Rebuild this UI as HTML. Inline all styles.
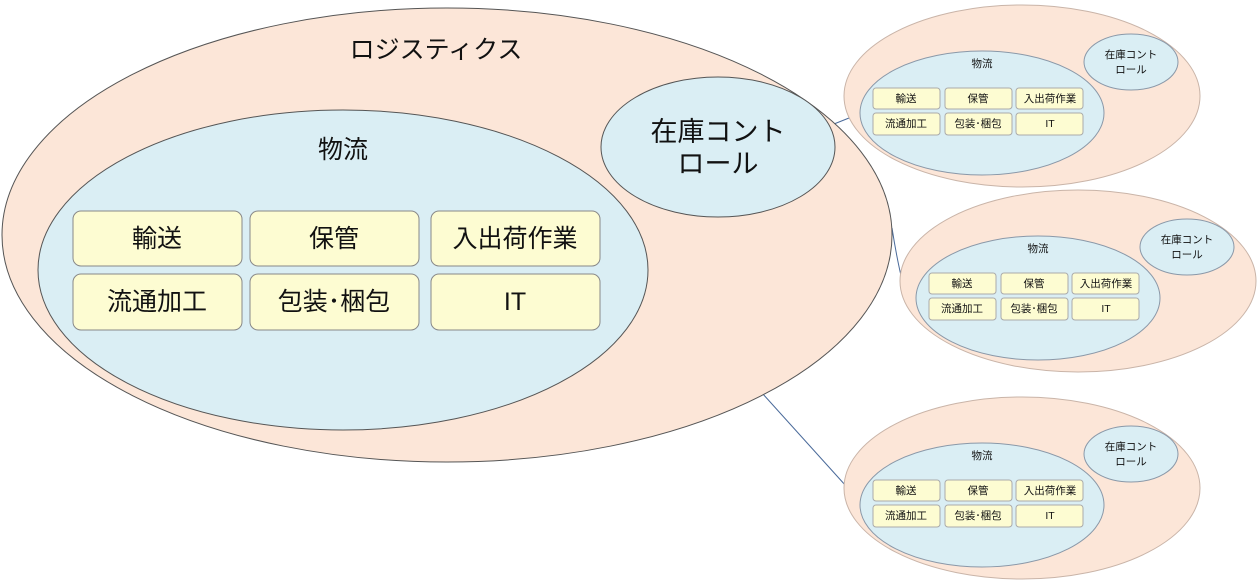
<!DOCTYPE html>
<html><head><meta charset="utf-8"><style>
html,body{margin:0;padding:0;background:#fff;}
svg text{font-family:"Liberation Sans","Noto Sans CJK JP",sans-serif;fill:#111;text-anchor:middle;dominant-baseline:central;}
</style></head><body>
<svg width="1258" height="581" viewBox="0 0 1258 581" xmlns="http://www.w3.org/2000/svg">
<g stroke="#4a6a9a" stroke-width="1" fill="none">
<line x1="834" y1="124" x2="864" y2="112"/>
<path d="M892 228 Q897 260 903 284"/>
<line x1="762" y1="393" x2="846" y2="486"/>
</g>
<!-- big -->
<ellipse cx="447" cy="235" rx="445" ry="227" fill="#fce6d8" stroke="#555" stroke-width="1"/>
<ellipse cx="343" cy="270" rx="305" ry="160" fill="#daeef4" stroke="#555" stroke-width="1"/>
<ellipse cx="718" cy="147" rx="117" ry="70" fill="#daeef4" stroke="#555" stroke-width="1"/>
<text x="436" y="50" font-size="25">ロジスティクス</text>
<text x="343" y="150" font-size="25">物流</text>
<text x="718" y="132" font-size="27">在庫コント</text>
<text x="718" y="164" font-size="27">ロール</text>
<g fill="#fdfcd2" stroke="#888" stroke-width="1">
<rect x="73" y="211" width="169" height="55" rx="8"/>
<rect x="250" y="211" width="169" height="55" rx="8"/>
<rect x="431" y="211" width="169" height="55" rx="8"/>
<rect x="73" y="274" width="169" height="56" rx="8"/>
<rect x="250" y="274" width="169" height="56" rx="8"/>
<rect x="431" y="274" width="169" height="56" rx="8"/>
</g>
<g font-size="25">
<text x="157" y="239">輸送</text>
<text x="334" y="239">保管</text>
<text x="515" y="239">入出荷作業</text>
<text x="157" y="302">流通加工</text>
<text x="334" y="302">包装･梱包</text>
<text x="515" y="302">IT</text>
</g>
<!-- small diagrams -->
<g id="s1">
<ellipse cx="1022" cy="96" rx="178" ry="91" fill="#fce6d8" stroke="#c9b4a8" stroke-width="1"/>
<ellipse cx="982" cy="113" rx="122" ry="62" fill="#daeef4" stroke="#8a98a8" stroke-width="1"/>
<ellipse cx="1131" cy="62" rx="47" ry="28" fill="#daeef4" stroke="#8a98a8" stroke-width="1"/>
<text x="982" y="64" font-size="10.5">物流</text>
<text x="1131" y="55" font-size="10.5">在庫コント</text>
<text x="1131" y="70" font-size="10.5">ロール</text>
<g fill="#fdfcd2" stroke="#aaa" stroke-width="1">
<rect x="873" y="88" width="67" height="21" rx="3"/><rect x="945" y="88" width="67" height="21" rx="3"/><rect x="1016" y="88" width="67" height="21" rx="3"/>
<rect x="873" y="113" width="67" height="22" rx="3"/><rect x="945" y="113" width="67" height="22" rx="3"/><rect x="1016" y="113" width="67" height="22" rx="3"/>
</g>
<g font-size="10.5">
<text x="906" y="99">輸送</text><text x="978" y="99">保管</text><text x="1050" y="99">入出荷作業</text>
<text x="906" y="124">流通加工</text><text x="978" y="124">包装･梱包</text><text x="1050" y="124">IT</text>
</g>
</g>
<g transform="translate(56,185)">
<ellipse cx="1022" cy="96" rx="178" ry="91" fill="#fce6d8" stroke="#c9b4a8" stroke-width="1"/>
<ellipse cx="982" cy="113" rx="122" ry="62" fill="#daeef4" stroke="#8a98a8" stroke-width="1"/>
<ellipse cx="1131" cy="62" rx="47" ry="28" fill="#daeef4" stroke="#8a98a8" stroke-width="1"/>
<text x="982" y="64" font-size="10.5">物流</text>
<text x="1131" y="55" font-size="10.5">在庫コント</text>
<text x="1131" y="70" font-size="10.5">ロール</text>
<g fill="#fdfcd2" stroke="#aaa" stroke-width="1">
<rect x="873" y="88" width="67" height="21" rx="3"/><rect x="945" y="88" width="67" height="21" rx="3"/><rect x="1016" y="88" width="67" height="21" rx="3"/>
<rect x="873" y="113" width="67" height="22" rx="3"/><rect x="945" y="113" width="67" height="22" rx="3"/><rect x="1016" y="113" width="67" height="22" rx="3"/>
</g>
<g font-size="10.5">
<text x="906" y="99">輸送</text><text x="978" y="99">保管</text><text x="1050" y="99">入出荷作業</text>
<text x="906" y="124">流通加工</text><text x="978" y="124">包装･梱包</text><text x="1050" y="124">IT</text>
</g>
</g>
<g transform="translate(0,392)">
<ellipse cx="1022" cy="96" rx="178" ry="91" fill="#fce6d8" stroke="#c9b4a8" stroke-width="1"/>
<ellipse cx="982" cy="113" rx="122" ry="62" fill="#daeef4" stroke="#8a98a8" stroke-width="1"/>
<ellipse cx="1131" cy="62" rx="47" ry="28" fill="#daeef4" stroke="#8a98a8" stroke-width="1"/>
<text x="982" y="64" font-size="10.5">物流</text>
<text x="1131" y="55" font-size="10.5">在庫コント</text>
<text x="1131" y="70" font-size="10.5">ロール</text>
<g fill="#fdfcd2" stroke="#aaa" stroke-width="1">
<rect x="873" y="88" width="67" height="21" rx="3"/><rect x="945" y="88" width="67" height="21" rx="3"/><rect x="1016" y="88" width="67" height="21" rx="3"/>
<rect x="873" y="113" width="67" height="22" rx="3"/><rect x="945" y="113" width="67" height="22" rx="3"/><rect x="1016" y="113" width="67" height="22" rx="3"/>
</g>
<g font-size="10.5">
<text x="906" y="99">輸送</text><text x="978" y="99">保管</text><text x="1050" y="99">入出荷作業</text>
<text x="906" y="124">流通加工</text><text x="978" y="124">包装･梱包</text><text x="1050" y="124">IT</text>
</g>
</g>
</svg>
</body></html>
